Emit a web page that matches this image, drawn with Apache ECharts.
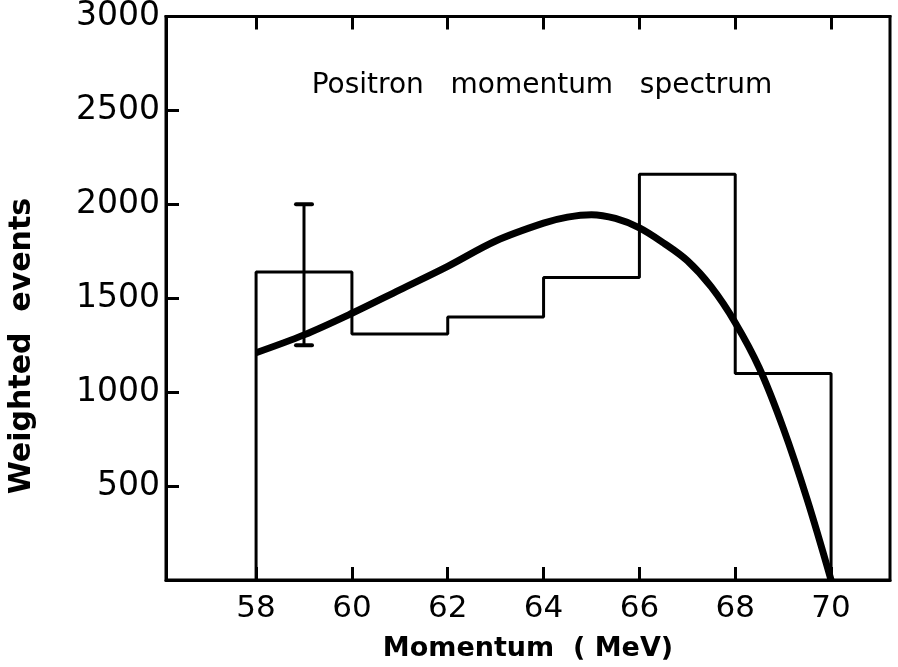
<!DOCTYPE html>
<html>
<head>
<meta charset="utf-8">
<script src="https://cdn.jsdelivr.net/npm/echarts@6/dist/echarts.min.js"></script>
<style>
html, body { margin: 0; padding: 0; background: #fff; }
#dataView { width: 898px; height: 667px; }
</style>
</head>
<body>
<div id="dataView"></div>
<script>
// histogram bins (MeV) and weighted event counts
var binEdges = [58, 60, 62, 64, 66, 68, 70];
var binCounts = [1640, 1310, 1400, 1610, 2160, 1100];

// fitted spectrum curve
var curveX = [58, 59, 60, 61, 62, 63, 64, 64.5, 65, 65.5, 66, 66.5, 67, 67.5, 68, 68.5, 69, 69.5, 70];
var curveY = [1210, 1305, 1420, 1545, 1670, 1805, 1900, 1932, 1945, 1925, 1875, 1795, 1700, 1560, 1370, 1130, 810, 430, 0];

// one error bar
var errX = [59];
var errLow = [1250];
var errHigh = [2000];

// tick labels
var xTicks = [58, 60, 62, 64, 66, 68, 70];
var yTicks = [500, 1000, 1500, 2000, 2500, 3000];

var histData = [[binEdges[0], 0]];
for (var i = 0; i < binCounts.length; i++) {
	histData.push([binEdges[i], binCounts[i]]);
}
histData.push([binEdges[binEdges.length - 1], binCounts[binCounts.length - 1]]);
histData.push([binEdges[binEdges.length - 1], 0]);

var curveData = curveX.map(function(x, k) { return [x, curveY[k]]; });
var errData = errX.map(function(x, k) { return [x, errLow[k], errHigh[k]]; });

var dataViewcharts = echarts.init(document.getElementById('dataView'));
var dataViewoption = {
	animation: false,
	backgroundColor: '#fff',
	textStyle: { fontFamily: 'DejaVu Sans', color: '#000' },
	title: {
		text: 'Positron   momentum   spectrum',
		left: 537,
		top: 67,
		textAlign: 'center',
		textStyle: { fontFamily: 'DejaVu Sans', fontSize: 28, fontWeight: 'normal', color: '#000' }
	},
	graphic: [{
		type: 'text',
		x: 22,
		y: 346,
		rotation: Math.PI / 2,
		style: {
			text: 'Weighted  events',
			font: 'bold 30px "DejaVu Sans"',
			fill: '#000',
			align: 'center',
			verticalAlign: 'middle'
		}
	}],
	grid: {
		left: 166, right: 8, top: 16, bottom: 87,
		show: true, borderColor: '#000', borderWidth: 3
	},
	xAxis: [{
		type: 'value',
		min: 56.12,
		max: 71.23,
		position: 'bottom',
		name: 'Momentum  ( MeV)',
		nameLocation: 'middle',
		nameGap: 55,
		nameTextStyle: { fontFamily: 'DejaVu Sans', fontSize: 27, fontWeight: 'bold', color: '#000' },
		axisLine: { show: true, lineStyle: { color: '#000', width: 3 } },
		axisTick: { show: true, inside: true, length: 13, lineStyle: { color: '#000', width: 3 }, customValues: xTicks },
		axisLabel: { show: true, margin: 13, fontFamily: 'DejaVu Sans', fontSize: 31, color: '#000', customValues: xTicks },
		splitLine: { show: false }
	}, {
		type: 'value',
		min: 56.12,
		max: 71.23,
		position: 'top',
		axisLine: { show: true, lineStyle: { color: '#000', width: 3 } },
		axisTick: { show: true, inside: true, length: 13, lineStyle: { color: '#000', width: 3 }, customValues: xTicks },
		axisLabel: { show: false },
		splitLine: { show: false }
	}],
	yAxis: [{
		type: 'value',
		min: 0,
		max: 3000,
		interval: 500,
		axisLine: { show: true, lineStyle: { color: '#000', width: 3 } },
		axisTick: { show: true, inside: true, length: 13, lineStyle: { color: '#000', width: 3 } },
		axisLabel: {
			margin: 6,
			fontFamily: 'DejaVu Sans',
			fontSize: 33,
			color: '#000',
			formatter: function(v) { return yTicks.indexOf(v) >= 0 ? String(v) : ''; }
		},
		splitLine: { show: false }
	}],
	series: [{
		name: 'histogram',
		type: 'line',
		step: 'end',
		data: histData,
		symbol: 'none',
		lineStyle: { color: '#000', width: 3 },
		z: 2
	}, {
		name: 'fit',
		type: 'line',
		smooth: 0.35,
		data: curveData,
		symbol: 'none',
		lineStyle: { color: '#000', width: 7 },
		z: 3
	}, {
		name: 'error',
		type: 'custom',
		data: errData,
		z: 4,
		renderItem: function(params, api) {
			var lo = api.coord([api.value(0), api.value(1)]);
			var hi = api.coord([api.value(0), api.value(2)]);
			var w = 8;
			var cap = { stroke: '#000', lineWidth: 4, lineCap: 'round' };
			return {
				type: 'group',
				children: [
					{ type: 'line', shape: { x1: lo[0], y1: lo[1], x2: hi[0], y2: hi[1] }, style: { stroke: '#000', lineWidth: 3 } },
					{ type: 'line', shape: { x1: hi[0] - w, y1: hi[1], x2: hi[0] + w, y2: hi[1] }, style: cap },
					{ type: 'line', shape: { x1: lo[0] - w, y1: lo[1], x2: lo[0] + w, y2: lo[1] }, style: cap }
				]
			};
		}
	}]
};
dataViewcharts.setOption(dataViewoption);
</script>
</body>
</html>
